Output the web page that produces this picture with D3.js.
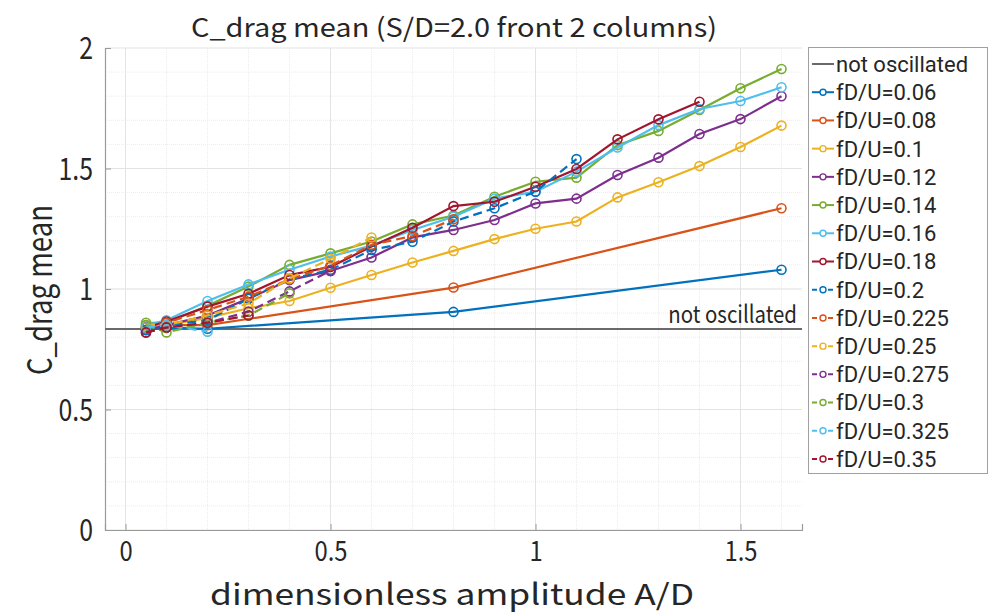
<!DOCTYPE html>
<html><head><meta charset="utf-8">
<script src="https://cdn.jsdelivr.net/npm/d3@7"></script>
<style>body{margin:0;background:#fff;} svg{display:block;} text{font-family:"Noto Sans CJK JP","Noto Sans",sans-serif;fill:#262626;}</style>
</head><body><svg id="c" width="989" height="615"></svg>
<script>
const title = "C_drag mean (S/D=2.0 front 2 columns)";
const xLabel = "dimensionless amplitude A/D";
const yLabel = "C_drag mean";
const xTicks = [0, 0.5, 1, 1.5];
const yTicks = [0, 0.5, 1, 1.5, 2];
const baseline = 0.834;
const baselineName = "not oscillated";
const freqs = ["0.06","0.08","0.1","0.12","0.14","0.16","0.18","0.2","0.225","0.25","0.275","0.3","0.325","0.35"];
const colors = ["#0072BD","#D95319","#EDB120","#7E2F8E","#77AC30","#4DBEEE","#A2142F","#0072BD","#D95319","#EDB120","#7E2F8E","#77AC30","#4DBEEE","#A2142F"];
const dashed = [false,false,false,false,false,false,false,true,true,true,true,true,true,true];
const ampFull = [0.05,0.1,0.2,0.3,0.4,0.5,0.6,0.7,0.8,0.9,1.0,1.1,1.2,1.3,1.4,1.5,1.6];
const ampLow = [0.05,0.1,0.2,0.8,1.6];
const amps = [
  ampLow, ampLow, ampFull, ampFull, ampFull, ampFull,
  ampFull.slice(0,15), ampFull.slice(0,12), ampFull.slice(0,9), ampFull.slice(0,7),
  ampFull.slice(0,6), ampFull.slice(0,5), ampFull.slice(0,3), ampFull.slice(0,4)
];
const vals = [
  [0.83,0.84,0.835,0.905,1.08],
  [0.84,0.85,0.85,1.006,1.335],
  [0.84,0.85,0.88,0.92,0.95,1.005,1.058,1.11,1.158,1.207,1.25,1.28,1.38,1.443,1.51,1.589,1.678],
  [0.83,0.85,0.89,0.96,1.037,1.075,1.131,1.214,1.245,1.286,1.355,1.375,1.473,1.545,1.643,1.705,1.80],
  [0.86,0.86,0.93,1.01,1.10,1.148,1.197,1.268,1.305,1.383,1.445,1.462,1.597,1.656,1.743,1.833,1.913],
  [0.85,0.87,0.95,1.019,1.08,1.135,1.18,1.245,1.30,1.375,1.404,1.487,1.587,1.68,1.747,1.78,1.837],
  [0.84,0.865,0.927,0.98,1.058,1.092,1.176,1.254,1.344,1.362,1.424,1.498,1.621,1.704,1.777],
  [0.83,0.85,0.87,0.96,1.04,1.08,1.162,1.196,1.28,1.335,1.404,1.539],
  [0.84,0.86,0.913,0.968,1.04,1.097,1.183,1.22,1.289],
  [0.85,0.85,0.89,0.94,1.044,1.125,1.214],
  [0.82,0.84,0.86,0.906,0.99,1.075],
  [0.85,0.82,0.86,0.89,0.982],
  [0.84,0.85,0.823],
  [0.82,0.84,0.86,0.89]
];

const svg = d3.select("#c");
const L = 105, R = 802, T = 48, B = 530;
const x = d3.scaleLinear().domain([-0.05, 1.65]).range([L, R]);
const y = d3.scaleLinear().domain([0, 2]).range([B, T]);

// horizontally condense a text element around its anchor x
function condense(sel, sx) {
  sel.each(function() {
    const t = d3.select(this);
    const ax = +(t.attr("x") || 0);
    t.attr("transform", `translate(${ax},0) scale(${sx},1) translate(${-ax},0)`);
  });
}

// grid
const g = svg.append("g");
const minorX = d3.range(0, 1.65, 0.1).map(v => +v.toFixed(2));
const minorY = d3.range(0.1, 2.0, 0.1).map(v => +v.toFixed(2));
g.selectAll(".mx").data(minorX).join("line").attr("x1", d => x(d)).attr("x2", d => x(d)).attr("y1", T).attr("y2", B)
  .attr("stroke", "#ececec").attr("stroke-width", 1).attr("stroke-dasharray", "1,1");
g.selectAll(".my").data(minorY).join("line").attr("x1", L).attr("x2", R).attr("y1", d => y(d)).attr("y2", d => y(d))
  .attr("stroke", "#ececec").attr("stroke-width", 1).attr("stroke-dasharray", "1,1");
g.selectAll(".gx").data(xTicks).join("line").attr("x1", d => x(d)).attr("x2", d => x(d)).attr("y1", T).attr("y2", B)
  .attr("stroke", "#e3e3e3").attr("stroke-width", 1);
g.selectAll(".gy").data(yTicks).join("line").attr("x1", L).attr("x2", R).attr("y1", d => y(d)).attr("y2", d => y(d))
  .attr("stroke", "#e3e3e3").attr("stroke-width", 1);

// axes
const xAxis = d3.axisBottom(x).tickValues(xTicks).tickSize(-6).tickPadding(9).tickFormat(d3.format("~g"));
const yAxis = d3.axisLeft(y).tickValues(yTicks).tickSize(-6).tickPadding(12).tickFormat(d3.format("~g"));
const gx = svg.append("g").attr("transform", `translate(0,${B})`).call(xAxis);
const gy = svg.append("g").attr("transform", `translate(${L},0)`).call(yAxis);
[gx, gy].forEach(a => {
  a.select(".domain").attr("stroke", "#9a9a9a").attr("stroke-width", 1.2);
  a.selectAll(".tick line").attr("stroke", "#9a9a9a");
  a.selectAll(".tick text").attr("fill", "#262626").style("font-family", '"Noto Sans CJK JP", sans-serif');
});
gx.selectAll(".tick text").attr("font-size", 28).attr("dy", "0.8em");
gy.selectAll(".tick text").attr("font-size", 31).attr("dy", "0.34em");
condense(gx.selectAll(".tick text"), 0.85);
condense(gy.selectAll(".tick text"), 0.8);

// baseline
svg.append("line").attr("x1", L).attr("x2", R).attr("y1", y(baseline)).attr("y2", y(baseline))
  .attr("stroke", "#6a6a6a").attr("stroke-width", 2.2);
const bt = svg.append("text").attr("x", 797).attr("y", y(baseline) - 6).attr("text-anchor", "end")
  .attr("font-size", 24).text(baselineName);
condense(bt, 0.85);

// series
const line = d3.line().x(d => x(d[0])).y(d => y(d[1]));
freqs.forEach((f, i) => {
  const pts = amps[i].map((a, j) => [a, vals[i][j]]);
  const sg = svg.append("g");
  sg.append("path").datum(pts).attr("d", line).attr("fill", "none").attr("stroke", colors[i])
    .attr("stroke-width", 2.2).attr("stroke-dasharray", dashed[i] ? "9,5" : null);
  sg.selectAll("circle").data(pts).join("circle").attr("cx", d => x(d[0])).attr("cy", d => y(d[1]))
    .attr("r", 4.5).attr("fill", "none").attr("stroke", colors[i]).attr("stroke-width", 1.6);
});

// title & labels
svg.append("text").attr("x", 454).attr("y", 37).attr("text-anchor", "middle").attr("font-size", 26)
  .attr("textLength", 526).attr("lengthAdjust", "spacingAndGlyphs").text(title);
svg.append("text").attr("x", 452).attr("y", 605).attr("text-anchor", "middle").attr("font-size", 29)
  .attr("textLength", 484).attr("lengthAdjust", "spacingAndGlyphs").text(xLabel);
svg.append("text").attr("transform", "translate(52,290) rotate(-90)").attr("text-anchor", "middle").attr("font-size", 34)
  .attr("textLength", 170).attr("lengthAdjust", "spacingAndGlyphs").text(yLabel);

// legend
const lg = svg.append("g");
lg.append("rect").attr("x", 808.5).attr("y", 47.5).attr("width", 179).attr("height", 426)
  .attr("fill", "#fff").attr("stroke", "#a0a0a0").attr("stroke-width", 1);
const entries = [{name: baselineName, color: "#6a6a6a", dash: false, marker: false}]
  .concat(freqs.map((f, i) => ({name: "fD/U=" + f, color: colors[i], dash: dashed[i], marker: true})));
const ly = d3.scaleLinear().domain([0, entries.length - 1]).range([64, 459]);
entries.forEach((e, i) => {
  const cy = ly(i);
  lg.append("line").attr("x1", 812).attr("x2", 834).attr("y1", cy).attr("y2", cy).attr("stroke", e.color)
    .attr("stroke-width", 2).attr("stroke-dasharray", e.dash ? "5,3" : null);
  if (e.marker) lg.append("circle").attr("cx", 823).attr("cy", cy).attr("r", 3).attr("fill", "#fff")
    .attr("stroke", e.color).attr("stroke-width", 1.4);
  lg.append("text").attr("x", 836).attr("y", cy).attr("dy", "0.36em").attr("font-size", 22)
    .style("font-family", "Roboto, sans-serif").text(e.name);
});
// fit legend text: "not oscillated" spans ~151 px in the reference
const lt = lg.selectAll("text");
const w0 = lt.nodes()[0].getComputedTextLength();
condense(lt, Math.min(1, 151 / w0));
</script></body></html>
